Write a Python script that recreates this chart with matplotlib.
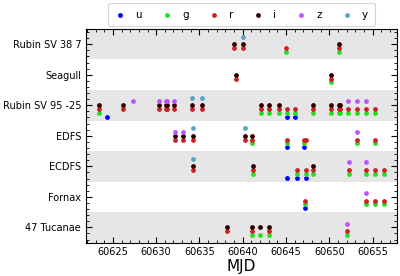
import matplotlib
matplotlib.use("Agg")
import matplotlib.pyplot as plt
from matplotlib.ticker import MultipleLocator, AutoMinorLocator

fields = ["Rubin SV 38 7", "Seagull", "Rubin SV 95 -25", "EDFS", "ECDFS", "Fornax", "47 Tucanae"]
filters = ["u", "g", "r", "i", "z", "y"]
colors = {"u": "#0000ff", "g": "#22e022", "r": "#cc2222", "i": "#330000", "z": "#bb55ff", "y": "#55a5c5"}

rubin_sv_38_7 = {
    "y": [60640.0],
    "i": [60639.0, 60640.0, 60651.1],
    "r": [60639.0, 60640.0, 60645.0, 60651.1],
    "g": [60645.0, 60651.1],
}
seagull = {
    "i": [60639.2, 60650.2],
    "r": [60639.2, 60650.2],
    "g": [60650.2],
}
rubin_sv_95_25 = {
    "y": [60634.08, 60635.27],
    "z": [60627.3, 60630.27, 60631.1, 60631.3, 60632.1, 60652.2, 60653.15, 60654.2],
    "i": [60623.35, 60626.15, 60630.27, 60631.1, 60631.3, 60632.1, 60634.08, 60635.27,
          60642.08, 60643.04, 60644.23, 60648.15, 60650.2, 60651.05, 60651.2],
    "r": [60623.35, 60626.15, 60630.27, 60631.1, 60631.3, 60632.1, 60634.08, 60635.27,
          60642.08, 60643.04, 60644.23, 60645.1, 60646.08, 60648.15, 60650.2, 60651.05,
          60651.2, 60652.2, 60653.15, 60654.2, 60655.23],
    "g": [60623.35, 60642.08, 60643.04, 60644.23, 60645.1, 60646.08, 60648.15, 60650.2,
          60651.05, 60651.2, 60652.2, 60653.15, 60654.2, 60655.23],
    "u": [60624.35, 60645.1, 60646.08],
}
edfs = {
    "y": [60634.3, 60640.2],
    "z": [60632.2, 60633.1, 60653.2],
    "i": [60632.2, 60633.1, 60634.3, 60640.2, 60641.08],
    "r": [60632.2, 60633.1, 60634.3, 60640.2, 60641.08, 60645.1, 60647.05, 60647.3, 60653.2, 60655.23],
    "g": [60641.08, 60645.1, 60647.05, 60653.2, 60655.23],
    "u": [60645.1, 60647.05],
}
ecdfs = {
    "y": [60634.3],
    "z": [60652.27, 60654.27],
    "i": [60634.3, 60641.15, 60648.1],
    "r": [60634.3, 60641.15, 60646.27, 60647.27, 60648.1, 60652.27, 60654.27, 60655.23, 60656.27],
    "g": [60641.15, 60646.27, 60647.27, 60648.1, 60652.27, 60654.27, 60655.23, 60656.27],
    "u": [60645.1, 60646.27, 60647.27],
}
fornax = {
    "z": [60654.27],
    "r": [60647.2, 60654.27, 60655.23, 60656.27],
    "g": [60647.2, 60654.27, 60655.23, 60656.27],
    "u": [60647.2],
}
tucanae_47 = {
    "z": [60652.04],
    "i": [60638.12, 60641.04, 60642.04, 60643.04],
    "r": [60638.12, 60641.04, 60643.04, 60652.04],
    "g": [60641.04, 60642.04, 60643.04, 60652.04],
}

field_data = [rubin_sv_38_7, seagull, rubin_sv_95_25, edfs, ecdfs, fornax, tucanae_47]
offsets = {"y": -0.25, "z": -0.125, "i": 0.0, "r": 0.125, "g": 0.25, "u": 0.37}

fig = plt.figure(figsize=(4.0, 2.76), dpi=100)
ax = fig.add_axes([0.215, 0.121, 0.7775, 0.774])

for k in range(len(fields)):
    if k % 2 == 0:
        ax.axhspan(k - 0.5, k + 0.5, color="#e6e6e6", lw=0, zorder=0)

for f in filters:
    xs, ys = [], []
    for k, d in enumerate(field_data):
        for t in d.get(f, []):
            xs.append(t)
            ys.append(k + offsets[f])
    ax.scatter(xs, ys, s=12, color=colors[f], label=f, zorder=3, linewidths=0)

ax.set_ylim(len(fields) - 0.5, -0.5)
ax.set_xlim(60621.9, 60657.8)
ax.set_yticks(range(len(fields)))
ax.set_yticklabels(fields)
ax.xaxis.set_major_locator(MultipleLocator(5))
ax.xaxis.set_minor_locator(MultipleLocator(1))
ax.yaxis.set_minor_locator(AutoMinorLocator(5))
ax.tick_params(which="both", direction="in", top=True, right=True, labelsize=7)
ax.tick_params(which="major", length=4, width=0.8)
ax.tick_params(which="minor", length=2.2, width=0.6)
ax.ticklabel_format(axis="x", useOffset=False, style="plain")
ax.set_xlabel("MJD", fontsize=11, labelpad=1)

leg = ax.legend(loc="lower center", bbox_to_anchor=(0.5, 1.012), ncol=6, fontsize=7.5,
                frameon=True, handletextpad=0.95, columnspacing=1.9, borderaxespad=0,
                borderpad=0.65, markerscale=1.0, handlelength=1.0)
leg.get_frame().set_edgecolor("#cccccc")
leg.get_frame().set_linewidth(0.8)

fig.savefig("out.png", dpi=100)
